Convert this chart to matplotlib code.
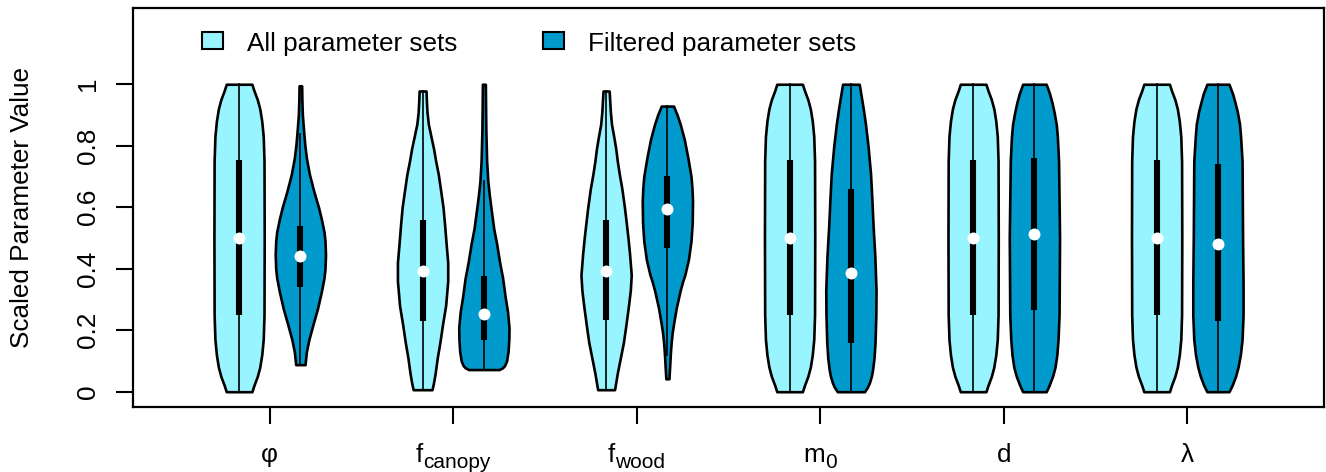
import numpy as np
import matplotlib
matplotlib.use("Agg")
import matplotlib.pyplot as plt
from matplotlib.patches import Rectangle

plt.rcParams['font.family'] = ['Liberation Sans', 'DejaVu Sans']

# ---------------- data ----------------
category_base = ['φ', 'f', 'f', 'm', 'd', 'λ']
category_sub = ['', 'canopy', 'wood', '0', '', '']
series_names = ['All parameter sets', 'Filtered parameter sets']
y_ticks = [0, 0.2, 0.4, 0.6, 0.8, 1.0]
y_tick_labels = ['0', '0.2', '0.4', '0.6', '0.8', '1']
y_label = 'Scaled Parameter Value'

# summary statistics
all_median = [0.500, 0.392, 0.392, 0.500, 0.500, 0.500]
all_q1     = [0.250, 0.231, 0.234, 0.250, 0.250, 0.250]
all_q3     = [0.752, 0.557, 0.557, 0.752, 0.752, 0.752]
all_lo     = [0.000, 0.0065, 0.0065, 0.000, 0.000, 0.000]
all_hi     = [1.000, 0.978, 0.978, 1.000, 1.000, 1.000]

filt_median = [0.441, 0.253, 0.593, 0.386, 0.514, 0.479]
filt_q1     = [0.340, 0.169, 0.468, 0.159, 0.267, 0.231]
filt_q3     = [0.538, 0.376, 0.701, 0.658, 0.761, 0.739]
filt_lo     = [0.088, 0.072, 0.118, 0.000, 0.000, 0.000]
filt_hi     = [0.837, 0.686, 0.929, 1.000, 1.000, 1.000]

# density profiles: value levels and relative density at each level
unif_y = [0, 0.02, 0.05, 0.08, 0.12, 0.17, 0.25, 0.5, 0.75, 0.83, 0.88, 0.92, 0.95, 0.98, 1.0]
unif_w = [13, 15, 18.5, 21, 23, 24.5, 25.3, 25.5, 25.3, 24.5, 23, 21, 18.5, 15, 13]

all_dens_y = [
    unif_y,
    [0.0065, 0.03, 0.06, 0.11, 0.16, 0.218, 0.28, 0.36, 0.42, 0.48, 0.544, 0.60, 0.66,
     0.707, 0.75, 0.79, 0.83, 0.87, 0.91, 0.95, 0.978],
    [0.0065, 0.03, 0.06, 0.11, 0.16, 0.218, 0.28, 0.33, 0.38, 0.45, 0.50, 0.544, 0.60,
     0.66, 0.707, 0.75, 0.79, 0.83, 0.87, 0.91, 0.95, 0.978],
    unif_y,
    unif_y,
    unif_y,
]
all_dens_w = [
    unif_w,
    [9, 10.5, 12, 14, 16.5, 19, 22, 24, 24, 22.5, 21, 19.5, 17, 15, 12.5, 10.5, 8, 5.5,
     4.2, 3.6, 3.3],
    [8.3, 9.5, 11, 14, 17, 19.5, 22, 23.8, 24.7, 23, 21.5, 20, 18, 15.5, 13, 11, 9.5,
     7.5, 5.3, 4.2, 3.5, 3],
    unif_w,
    unif_w,
    unif_w,
]
filt_dens_y = [
    [0.088, 0.10, 0.13, 0.17, 0.218, 0.27, 0.327, 0.37, 0.40, 0.446, 0.49, 0.52, 0.56,
     0.60, 0.65, 0.707, 0.76, 0.80, 0.837, 0.87, 0.90, 0.95, 0.995],
    [0.072, 0.078, 0.085, 0.10, 0.13, 0.17, 0.208, 0.26, 0.31, 0.37, 0.42, 0.48, 0.53,
     0.59, 0.64, 0.685, 0.75, 0.85, 0.93, 1.0],
    [0.042, 0.07, 0.10, 0.13, 0.16, 0.19, 0.22, 0.25, 0.27, 0.30, 0.33, 0.36, 0.38, 0.43,
     0.49, 0.55, 0.62, 0.66, 0.70, 0.76, 0.82, 0.87, 0.90, 0.929],
    [0, 0.015, 0.03, 0.05, 0.07, 0.11, 0.16, 0.25, 0.33, 0.44, 0.544, 0.63, 0.71, 0.80,
     0.87, 0.92, 0.96, 1.0],
    [0, 0.02, 0.05, 0.08, 0.12, 0.17, 0.25, 0.5, 0.75, 0.83, 0.87, 0.91, 0.94, 0.97, 1.0],
    [0, 0.02, 0.05, 0.08, 0.12, 0.17, 0.25, 0.35, 0.5, 0.75, 0.83, 0.87, 0.91, 0.94, 0.97,
     1.0],
]
filt_dens_w = [
    [4.7, 5, 6, 8.5, 12.5, 17, 21, 23.5, 24.5, 25, 24.5, 23.5, 21, 18, 13.5, 9, 6, 4.5,
     3.5, 2.7, 2, 1.5, 1.3],
    [15.5, 19, 21, 23, 24.5, 25.3, 25.5, 24, 21.5, 19, 16, 13, 10, 7.5, 5.5, 4.0, 2.8, 2,
     1.7, 1.5],
    [1.5, 2, 2.5, 3, 3.7, 4.6, 6, 7.5, 8.5, 10.5, 12.5, 15, 17, 20.5, 23, 24.2, 24.5, 24,
     23, 20, 16.5, 12.5, 9.5, 6],
    [13.5, 16.5, 18.5, 20.3, 21.5, 23, 24, 24.8, 25, 23.8, 22, 20.8, 19.5, 17, 14.5, 12.3,
     10.3, 8.3],
    [11.7, 14.5, 18, 20.5, 22.3, 23.5, 24.5, 25, 24, 22.8, 21.7, 19.5, 17.5, 15, 11.7],
    [11, 14, 17.5, 20, 22.3, 24, 25, 25, 24.5, 24, 22.5, 21.5, 19.3, 17, 14.5, 11],
]

# ---------------- style ----------------
W, H, DPI = 13.26, 4.72, 100
col_all = '#98F5FF'
col_filt = '#009ACD'
offset = 0.167          # half distance between the two violins of a pair
half_width = 0.137      # max half width of a violin (x units)
fs = 18.8
sub_fs = fs * 0.8

fig = plt.figure(figsize=(W, H), dpi=DPI)
px_w, px_h = W * DPI, H * DPI
ax_l, ax_r, ax_t, ax_b = 133, 1324, 8.3, 406.7
ax = fig.add_axes([ax_l / px_w, 1 - ax_b / px_h, (ax_r - ax_l) / px_w, (ax_b - ax_t) / px_h])

groups = np.arange(1, len(category_base) + 1)


def draw_violin(pos, ys, ws, color, med, q1, q3, lo, hi):
    ys = np.asarray(ys, float)
    ws = np.asarray(ws, float)
    ws = ws / ws.max() * half_width
    ax.fill_betweenx(ys, pos - ws, pos + ws, facecolor=color, edgecolor='black',
                     linewidth=1.9, joinstyle='round', zorder=2)
    ax.plot([pos, pos], [lo, hi], color='black', lw=1.2, zorder=3)
    ax.plot([pos, pos], [q1, q3], color='black', lw=4.4, solid_capstyle='butt', zorder=4)
    ax.plot([pos], [med], 'o', color='white', ms=8.6, mew=0, zorder=5)


for i, g in enumerate(groups):
    draw_violin(g - offset, all_dens_y[i], all_dens_w[i], col_all,
                all_median[i], all_q1[i], all_q3[i], all_lo[i], all_hi[i])
    draw_violin(g + offset, filt_dens_y[i], filt_dens_w[i], col_filt,
                filt_median[i], filt_q1[i], filt_q3[i], filt_lo[i], filt_hi[i])

ax.set_xlim(0.255, 6.745)
ax.set_ylim(-0.0488, 1.247)

ax.set_yticks(y_ticks)
ax.set_yticklabels(y_tick_labels, fontsize=fs, rotation=90, va='center')
ax.tick_params(axis='y', direction='out', length=12, width=1.5, pad=12)

ax.set_xticks(groups)
ax.set_xticklabels([''] * len(groups))
ax.tick_params(axis='x', direction='out', length=12, width=1.5)

# x labels: base symbol + (optional) larger-than-mathtext subscript
renderer = fig.canvas.get_renderer()
base_off = -39.5      # points below axis (baseline)
sub_drop = 4.5        # points further down for subscript
pt_per_px = 72.0 / DPI
for g, base, sub in zip(groups, category_base, category_sub):
    tb = ax.annotate(base, xy=(g, 0), xycoords=('data', 'axes fraction'),
                     xytext=(0, base_off), textcoords='offset points',
                     ha='left', va='baseline', fontsize=fs)
    wb = tb.get_window_extent(renderer).width * pt_per_px
    ws = 0.0
    ts = None
    if sub:
        ts = ax.annotate(sub, xy=(g, 0), xycoords=('data', 'axes fraction'),
                         xytext=(0, base_off - sub_drop), textcoords='offset points',
                         ha='left', va='baseline', fontsize=sub_fs)
        ws = ts.get_window_extent(renderer).width * pt_per_px
    total = wb + ws
    tb.set_position((-total / 2, base_off))
    if ts is not None:
        ts.set_position((-total / 2 + wb, base_off - sub_drop))

for s in ax.spines.values():
    s.set_linewidth(1.6)

fig.text(21.7 / px_w, 1 - (ax_t + ax_b) / 2 / px_h, y_label, rotation=90,
         ha='center', va='center', fontsize=fs)

# legend
leg_boxes = [(201.7, col_all), (543.0, col_filt)]
leg_text_x = [247.0, 588.0]
for (bx, c), tx, name in zip(leg_boxes, leg_text_x, series_names):
    fig.add_artist(Rectangle((bx / px_w, 1 - 49.3 / px_h), 21 / px_w, 17.6 / px_h,
                             transform=fig.transFigure, facecolor=c,
                             edgecolor='black', linewidth=1.5))
    fig.text(tx / px_w, 1 - 50.5 / px_h, name, ha='left', va='baseline', fontsize=fs)

fig.savefig('out.png', dpi=DPI)
